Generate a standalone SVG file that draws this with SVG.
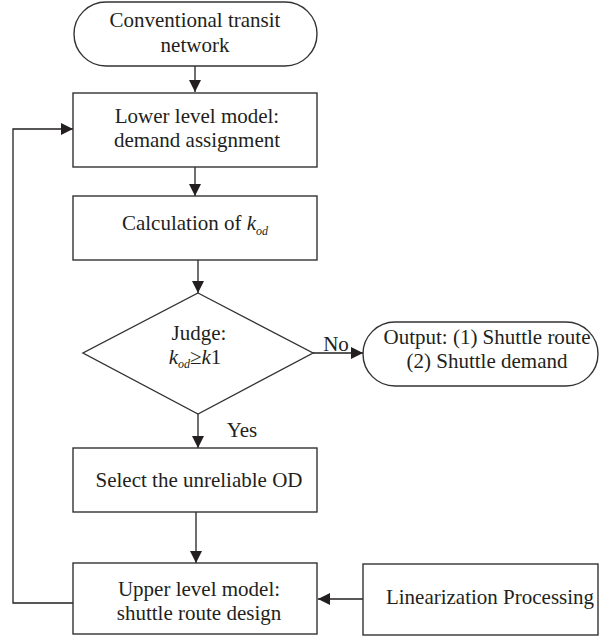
<svg xmlns="http://www.w3.org/2000/svg" width="600" height="640" viewBox="0 0 600 640">
<defs>
<marker id="ah" markerWidth="13" markerHeight="13" refX="12" refY="6" orient="auto" markerUnits="userSpaceOnUse">
<path d="M0,0 L12,6 L0,12 Z" fill="#231f20"/>
</marker>
<style>
.shape{fill:#fff;stroke:#333;stroke-width:1.4}
.t{font-family:"Liberation Serif","Times New Roman",serif;font-size:21px;fill:#231f20;text-anchor:middle}
.line{fill:none;stroke:#231f20;stroke-width:1.3}
.it{font-style:italic}
.sub{font-style:italic;font-size:12px}
</style>
</defs>
<rect width="600" height="640" fill="#fff"/>
<g id="connectors">
<line class="line" x1="195" y1="66" x2="195" y2="92" marker-end="url(#ah)"/>
<line class="line" x1="195" y1="167" x2="195" y2="196" marker-end="url(#ah)"/>
<line class="line" x1="198" y1="260" x2="198" y2="293" marker-end="url(#ah)"/>
<line class="line" x1="313" y1="353" x2="363" y2="353" marker-end="url(#ah)"/>
<line class="line" x1="198" y1="414" x2="198" y2="448" marker-end="url(#ah)"/>
<line class="line" x1="196" y1="512" x2="196" y2="563" marker-end="url(#ah)"/>
<line class="line" x1="363" y1="599" x2="318" y2="599" marker-end="url(#ah)"/>
<polyline class="line" points="73,603 13,603 13,129 73,129" marker-end="url(#ah)"/>
<text class="t" x="336" y="351">No</text>
<text class="t" x="242" y="437">Yes</text>
</g>
<g id="start">
<rect class="shape" x="74" y="2" width="243" height="64" rx="32" ry="32"/>
<text class="t" x="195" y="27">Conventional transit</text>
<text class="t" x="195" y="52">network</text>
</g>
<g id="lower">
<rect class="shape" x="73" y="93" width="244" height="74"/>
<text class="t" x="197" y="123">Lower level model:</text>
<text class="t" x="197" y="147">demand assignment</text>
</g>
<g id="calc">
<rect class="shape" x="73" y="196" width="244" height="64"/>
<text class="t" x="195" y="230">Calculation of <tspan class="it">k</tspan><tspan class="sub" dy="5">od</tspan></text>
</g>
<g id="judge">
<polygon class="shape" points="198,293 313,353 198,414 83,353"/>
<text class="t" x="199" y="340">Judge:</text>
<text class="t" x="195" y="364"><tspan class="it">k</tspan><tspan class="sub" dy="4">od</tspan><tspan dy="-4">≥</tspan><tspan class="it">k</tspan>1</text>
</g>
<g id="output">
<rect class="shape" x="363" y="322" width="235" height="64" rx="32" ry="32"/>
<text class="t" x="487" y="344">Output: (1) Shuttle route</text>
<text class="t" x="487" y="368">(2) Shuttle demand</text>
</g>
<g id="select">
<rect class="shape" x="73" y="448" width="244" height="64"/>
<text class="t" x="199" y="487">Select the unreliable OD</text>
</g>
<g id="upper">
<rect class="shape" x="73" y="563" width="244" height="71"/>
<text class="t" x="199" y="596">Upper level model:</text>
<text class="t" x="199" y="620">shuttle route design</text>
</g>
<g id="linear">
<rect class="shape" x="363" y="564" width="235" height="71"/>
<text class="t" x="490" y="604">Linearization Processing</text>
</g>
</svg>
